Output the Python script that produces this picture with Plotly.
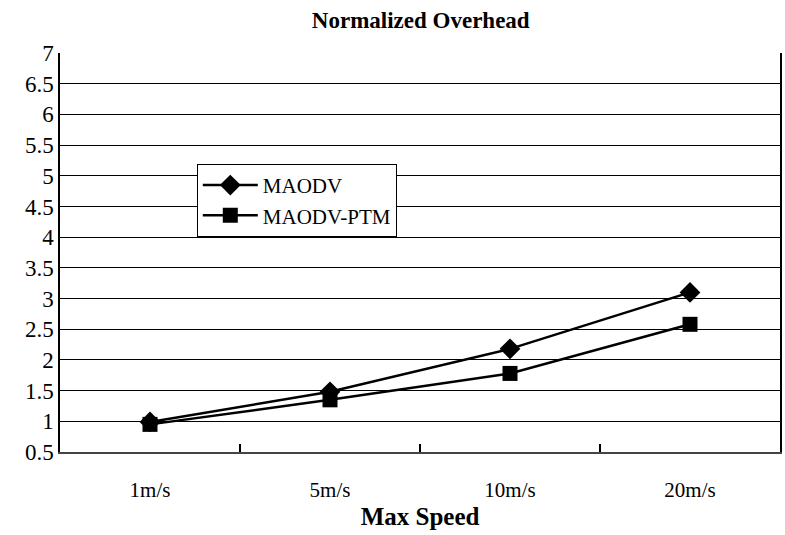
import plotly.graph_objects as go

categories = ["1m/s", "5m/s", "10m/s", "20m/s"]
maodv = [0.99, 1.48, 2.18, 3.10]
maodv_ptm = [0.95, 1.35, 1.78, 2.58]
y_ticks = [0.5, 1, 1.5, 2, 2.5, 3, 3.5, 4, 4.5, 5, 5.5, 6, 6.5, 7]
y_tick_labels = ["0.5", "1", "1.5", "2", "2.5", "3", "3.5", "4", "4.5", "5", "5.5", "6", "6.5", "7"]

FONT = "Liberation Serif"

fig = go.Figure()
fig.add_trace(go.Scatter(
    x=categories, y=maodv, name="MAODV", mode="lines+markers",
    legendgroup="a",
    line=dict(color="black", width=2.5),
    marker=dict(symbol="diamond", size=16, color="black"),
))
fig.add_trace(go.Scatter(
    x=categories, y=maodv_ptm, name="MAODV-PTM", mode="lines+markers",
    legendgroup="b",
    line=dict(color="black", width=2.5),
    marker=dict(symbol="square", size=15, color="black"),
))

fig.update_layout(
    width=785, height=535,
    margin=dict(l=60, r=3, t=53, b=83),
    paper_bgcolor="white", plot_bgcolor="white",
    font=dict(family=FONT, size=21, color="black"),
    title=dict(text="<b>Normalized Overhead</b>", x=0.536, xanchor="center",
               y=0.963, yanchor="middle", font=dict(family=FONT, size=23, color="black")),
    showlegend=True,
    legend=dict(x=0.19, y=0.722, xanchor="left", yanchor="top",
                bgcolor="white", bordercolor="black", borderwidth=1,
                font=dict(family=FONT, size=21, color="black"),
                tracegroupgap=0, itemwidth=55, traceorder="grouped"),
)
fig.update_xaxes(
    type="category", categoryorder="array", categoryarray=categories,
    range=[-0.5, 3.5], tickson="boundaries",
    ticks="inside", ticklen=8, tickwidth=1.5, tickcolor="black",
    showgrid=False, showline=True, linecolor="#444", linewidth=2,
    tickfont=dict(family=FONT, size=21, color="black"), zeroline=False,
    ticklabelstandoff=18,
    title=dict(text="<b>Max Speed</b>", font=dict(family=FONT, size=25, color="black"), standoff=6),
)
fig.update_yaxes(
    range=[0.5, 7], tickmode="array", tickvals=y_ticks, ticktext=y_tick_labels,
    showgrid=True, gridcolor="black", gridwidth=1,
    showline=True, linecolor="black", linewidth=1.5, mirror=True,
    ticks="", zeroline=False, tickfont=dict(family=FONT, size=23, color="black"),
)

fig.write_html("out.html")
